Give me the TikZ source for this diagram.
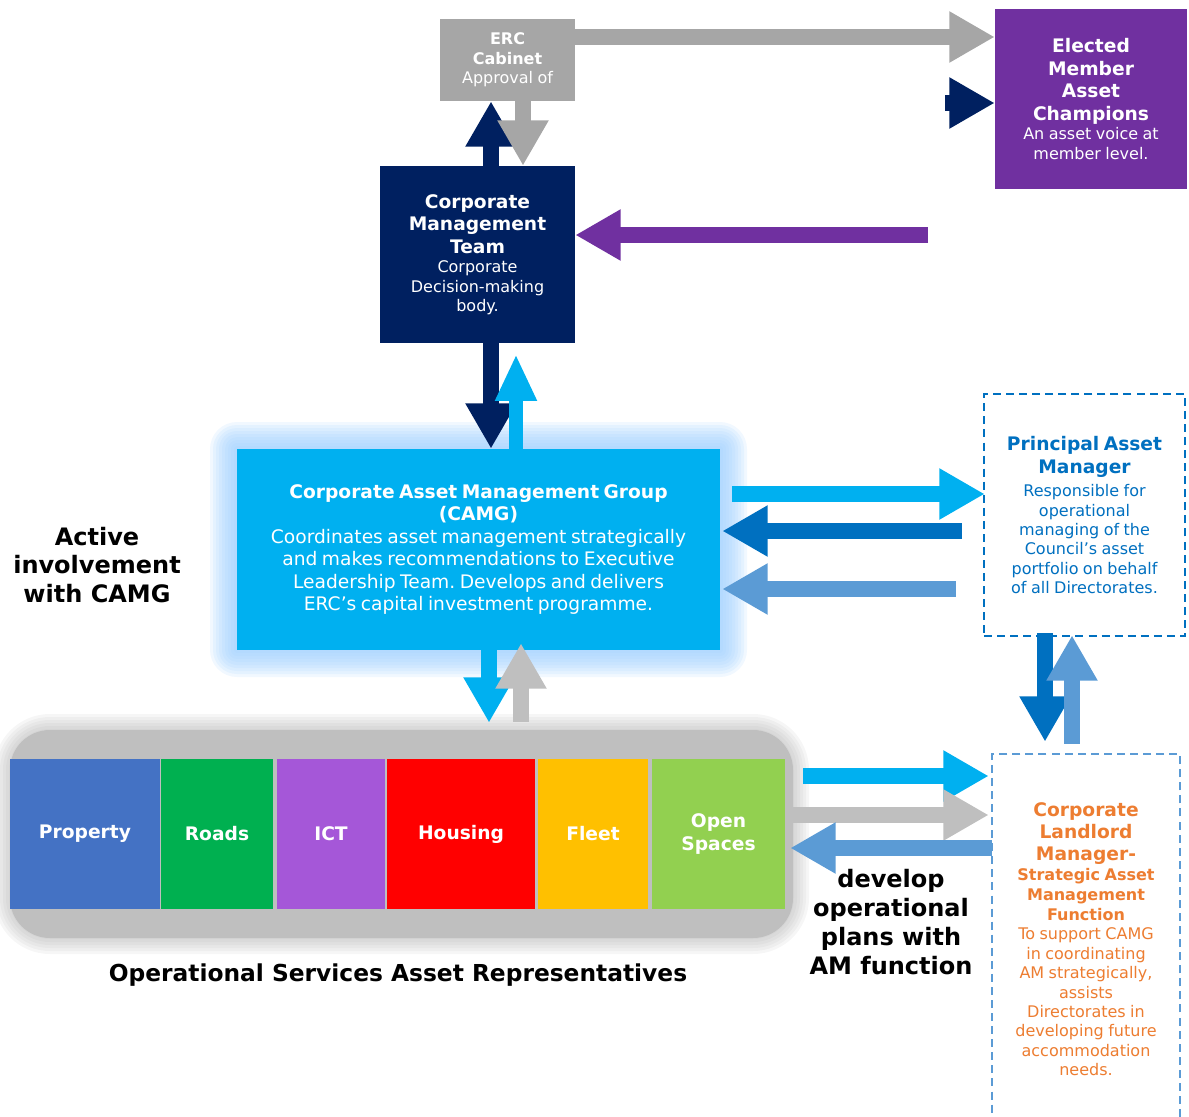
\documentclass[tikz,border=0pt]{standalone}
\usepackage{fontspec}
\setmainfont{DejaVu Sans}
\usetikzlibrary{arrows.meta,calc}
\frenchspacing

\definecolor{ercgray}{HTML}{A6A6A6}
\definecolor{navyc}{HTML}{002060}
\definecolor{purpc}{HTML}{7030A0}
\definecolor{cyanc}{HTML}{00B0F0}
\definecolor{midblue}{HTML}{0070C0}
\definecolor{softblue}{HTML}{5B9BD5}
\definecolor{lgray}{HTML}{BFBFBF}
\definecolor{orngc}{HTML}{ED7D31}
\definecolor{glowc}{HTML}{9ACDFF}
\definecolor{propc}{HTML}{4472C4}
\definecolor{roadc}{HTML}{00B050}
\definecolor{ictc}{HTML}{A557D8}
\definecolor{housc}{HTML}{FF0000}
\definecolor{fleetc}{HTML}{FFC000}
\definecolor{openc}{HTML}{92D050}

\newcommand\ttlfnt{\fontsize{14}{16.9}\selectfont\bfseries}
\newcommand\subfnt{\fontsize{12}{14.8}\selectfont\bfseries}
\newcommand\bdyfnt{\fontsize{12}{14.6}\selectfont\mdseries}

\tikzset{
  fbox/.style={inner sep=0pt, align=center, text=white, draw=none},
  dbox/.style={inner sep=0pt, align=center, fill=white, line width=1.9pt, dash pattern=on 6pt off 3.8pt},
  seg/.style={inner sep=0pt, align=center, text=white, minimum height=112.5pt,
              font=\fontsize{14}{17.25}\selectfont\bfseries},
  blk/.style={line width=12pt, line cap=butt, -{Triangle[length=34pt,width=36pt]}},
  freetext/.style={inner sep=0pt, align=center, text=black},
}

\begin{document}
\begin{tikzpicture}[x=0.75pt,y=-0.75pt]
\useasboundingbox (0,0) rectangle (1189,1117);
\clip (0,0) rectangle (1189,1117);

% glow behind CAMG
\foreach \r in {27,24,...,3}
  \fill[glowc, opacity=0.14, rounded corners=\r*0.75pt] (237-\r,449-\r) rectangle (720+\r,650+\r);
% soft shadow around the operational services container
\foreach \r in {16,13,...,1}
  \fill[black!35, opacity=0.1, rounded corners=30pt+\r*0.75pt] (10-\r,730-\r) rectangle (793+\r,938+\r);

% ---- boxes
\node[fbox, fill=ercgray, minimum width=101.25pt, minimum height=61.5pt, text width=100pt] (erc) at (507.5,60)
  {\bdyfnt\bfseries ERC\\Cabinet\par\bdyfnt Approval of\par};

\node[fbox, fill=purpc, minimum width=144pt, minimum height=135pt, text width=140pt] (elect) at (1091,99)
  {\ttlfnt Elected\\Member\\Asset\\Champions\par\bdyfnt An asset voice at\\member level.\par};

\node[fbox, fill=navyc, minimum width=146.25pt, minimum height=132.75pt, text width=144pt] (cmt) at (477.5,254.5)
  {\ttlfnt Corporate\\Management\\Team\par\bdyfnt Corporate\\Decision-making\\body.\par};

\node[fbox, fill=cyanc, minimum width=362.25pt, minimum height=150.75pt, text width=360pt] (camg) at (478.5,549.5)
  {\ttlfnt Corporate Asset Management Group\\(CAMG)\par
   \fontsize{14}{16.9}\selectfont\mdseries Coordinates asset management strategically\\and makes recommendations to Executive\\Leadership Team. Develops and delivers\\ERC’s capital investment programme.\par};

\node[dbox, draw=midblue, text=midblue, minimum width=150.75pt, minimum height=181.5pt, text width=148pt] (pam) at (1084.5,515)
  {\fontsize{14}{17.25}\selectfont\bfseries Principal Asset\\Manager\par\vspace{3pt}
   \bdyfnt Responsible for\\operational\\managing of the\\Council’s asset\\portfolio on behalf\\of all Directorates.\par};

\node[dbox, draw=softblue, text=orngc, minimum width=141pt, minimum height=278.25pt, text width=139pt] (clm) at (1086,939.5)
  {\fontsize{14}{16.6}\selectfont\bfseries Corporate\\Landlord\\Manager-\par
   \subfnt Strategic Asset\\Management\\Function\par
   \bdyfnt To support CAMG\\in coordinating\\AM strategically,\\assists\\Directorates in\\developing future\\accommodation\\needs.\par};

% operational services container and segments
\node[draw=none, fill=lgray, rounded corners=30pt, minimum width=587.25pt, minimum height=156pt, inner sep=0pt] (ops) at (401.5,834) {};
\node[seg, fill=propc,  minimum width=112.5pt] (prop)  at (85,834)    {Property};
\node[seg, fill=roadc,  minimum width=84pt]    (roads) at (217,834)   {Roads};
\node[seg, fill=ictc,   minimum width=81pt]    (ict)   at (331,834)   {ICT};
\node[seg, fill=housc,  minimum width=111pt]   (hous)  at (461,834)   {Housing};
\node[seg, fill=fleetc, minimum width=82.5pt]  (fleet) at (593,834)   {Fleet};
\node[seg, fill=openc,  minimum width=99.75pt] (opens) at (718.5,834) {Open\\Spaces};

% free labels
\node[freetext, font=\fontsize{18}{21.4}\selectfont\bfseries] (active) at (97,565) {Active\\involvement\\with CAMG};
\node[freetext, font=\fontsize{18}{21.75}\selectfont\bfseries] (devel) at (891,922) {develop\\operational\\plans with\\AM function};
\node[freetext, font=\fontsize{17.5}{21}\selectfont\bfseries] (osar) at (398,975) {Operational Services Asset Representatives};

% ---- connectors
\coordinate (navtail) at (945,103);
\coordinate (ptail) at (928,235);

\draw[blk, ercgray] ($(erc.east)+(0,-23)$) -- ($(elect.west)+(0,-62)$);
\draw[blk, navyc] (navtail) -- ($(elect.west)+(0,4)$);

\draw[blk, navyc] ($(cmt.north)+(13.5,0)$) -- ($(erc.south)+(-16.5,0)$);
\draw[blk, ercgray] ($(erc.south)+(15.5,0)$) -- ($(cmt.north)+(45.5,0)$);

\draw[blk, purpc] (ptail) -- ($(cmt.east)+(0,-19.5)$);

\draw[blk, navyc] ($(cmt.south)+(13.5,0)$) -- ($(camg.north)+(12.5,0)$);
\draw[blk, cyanc, line width=11pt, -{Triangle[length=35pt,width=29pt]}] ($(camg.north)+(37.5,0)$) -- ($(cmt.south)+(38.5,11)$);

\draw[blk, cyanc] ($(camg.south)+(10.5,0)$) -- ($(ops.north)+(87.5,-7)$);
\draw[blk, lgray] ($(ops.north)+(119.5,-8)$) -- ($(camg.south)+(42.5,-7)$);

\draw[blk, cyanc] ($(camg.east)+(12,-55.5)$) -- ($(pam.west)+(2,-21)$);
\draw[blk, midblue] ($(pam.west)+(-21,16)$) -- ($(camg.east)+(2,-18.5)$);
\draw[blk, softblue] ($(pam.west)+(-27,74)$) -- ($(camg.east)+(2,39.5)$);

\draw[blk, midblue] ($(pam.south)+(-39.5,-4)$) -- ($(clm.north)+(-41,-11)$);
\draw[blk, softblue] ($(clm.north)+(-14,-9)$) -- ($(pam.south)+(-12.5,-2)$);

\draw[blk, cyanc] ($(ops.east)+(10,-58)$) -- ($(clm.west)+(-2,-163.5)$);
\draw[blk, lgray] ($(ops.east)+(0,-19)$) -- ($(clm.west)+(-2,-124.5)$);
\draw[blk, softblue] ($(clm.west)+(1,-91.5)$) -- ($(ops.east)+(-3,14)$);
\end{tikzpicture}
\end{document}
